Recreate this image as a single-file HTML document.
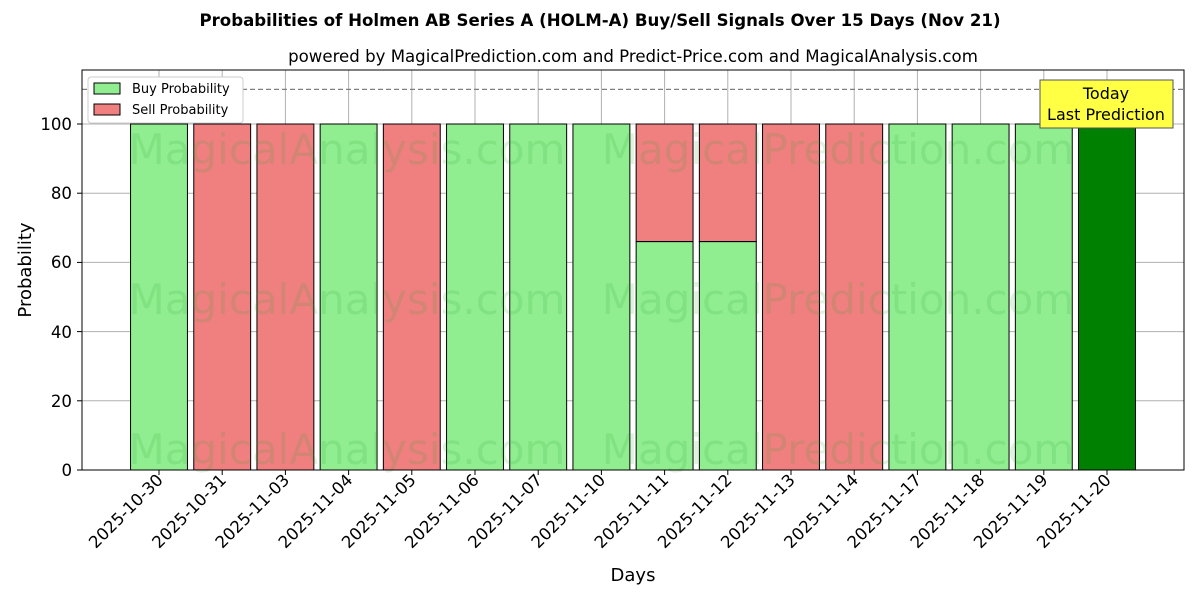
<!DOCTYPE html>
<html><head><style>body{margin:0;background:#fff}svg{display:block}</style></head><body>
<svg width="1200" height="600" xmlns="http://www.w3.org/2000/svg" font-family="'DejaVu Sans', 'Liberation Sans', sans-serif">
<rect width="1200" height="600" fill="#fff"/>
<text x="600" y="26" text-anchor="middle" font-size="16.6" font-weight="bold">Probabilities of Holmen AB Series A (HOLM-A) Buy/Sell Signals Over 15 Days (Nov 21)</text>
<text x="633" y="62" text-anchor="middle" font-size="16.6">powered by MagicalPrediction.com and Predict-Price.com and MagicalAnalysis.com</text>
<g id="grid" stroke="#b0b0b0" stroke-width="1">
<line x1="82" x2="1184" y1="470" y2="470"/><line x1="82" x2="1184" y1="400.8" y2="400.8"/><line x1="82" x2="1184" y1="331.6" y2="331.6"/><line x1="82" x2="1184" y1="262.4" y2="262.4"/><line x1="82" x2="1184" y1="193.2" y2="193.2"/><line x1="82" x2="1184" y1="124" y2="124"/>
</g>
<g stroke="#b0b0b0" stroke-width="1" id="vg"></g>
<g id="bars" stroke="#000" stroke-width="1"></g>
<line x1="82" x2="1184" y1="89.4" y2="89.4" stroke="#808080" stroke-width="1.3" stroke-dasharray="5,3"/>
<g font-size="42" fill="#2ca02c" fill-opacity="0.15" text-anchor="middle">
<text x="347" y="164">MagicalAnalysis.com</text><text x="838" y="164">MagicalPrediction.com</text>
<text x="347" y="314">MagicalAnalysis.com</text><text x="838" y="314">MagicalPrediction.com</text>
<text x="347" y="464">MagicalAnalysis.com</text><text x="838" y="464">MagicalPrediction.com</text>
</g>
<rect x="82" y="70" width="1102" height="400" fill="none" stroke="#000" stroke-width="1"/>
<g font-size="16.6" text-anchor="end">
<text x="72" y="476">0</text><text x="72" y="407">20</text><text x="72" y="338">40</text><text x="72" y="268">60</text><text x="72" y="199">80</text><text x="72" y="130">100</text>
</g>
<g stroke="#000"><line x1="77" x2="82" y1="470" y2="470"/><line x1="77" x2="82" y1="400.8" y2="400.8"/><line x1="77" x2="82" y1="331.6" y2="331.6"/><line x1="77" x2="82" y1="262.4" y2="262.4"/><line x1="77" x2="82" y1="193.2" y2="193.2"/><line x1="77" x2="82" y1="124" y2="124"/></g>
<g id="xl" font-size="16.6" text-anchor="end"></g>
<text x="633" y="581" text-anchor="middle" font-size="18">Days</text>
<text transform="translate(31,270) rotate(-90)" text-anchor="middle" font-size="18">Probability</text>
<rect x="1040" y="80" width="133" height="48" fill="#ffff44" stroke="#555"/>
<text x="1106" y="99" text-anchor="middle" font-size="16">Today</text>
<text x="1106" y="120" text-anchor="middle" font-size="16">Last Prediction</text>
<rect x="88" y="77" width="155" height="46" fill="#fff" stroke="#ccc" rx="3"/>
<rect x="94" y="83" width="26" height="11" fill="#90ee90" stroke="#000"/>
<text x="132" y="93" font-size="13">Buy Probability</text>
<rect x="94" y="104" width="26" height="11" fill="#f08080" stroke="#000"/>
<text x="132" y="114" font-size="13">Sell Probability</text>
<script>
var dates=["2025-10-30","2025-10-31","2025-11-03","2025-11-04","2025-11-05","2025-11-06","2025-11-07","2025-11-10","2025-11-11","2025-11-12","2025-11-13","2025-11-14","2025-11-17","2025-11-18","2025-11-19","2025-11-20"];
var buy=[100,0,0,100,0,100,100,100,66,66,0,0,100,100,100,100];
var ns="http://www.w3.org/2000/svg",b=document.getElementById("bars"),vg=document.getElementById("vg"),xl=document.getElementById("xl");
function el(t,a,p){var e=document.createElementNS(ns,t);for(var k in a)e.setAttribute(k,a[k]);p.appendChild(e);return e;}
for(var i=0;i<16;i++){var c=159+i*63.2,w=56.9,x=c-w/2;
el("line",{x1:c,x2:c,y1:70,y2:470},vg);
var yb=470-buy[i]*3.46;
if(buy[i]<100) el("rect",{x:x,y:124,width:w,height:yb-124,fill:"#f08080"},b);
if(buy[i]>0) el("rect",{x:x,y:yb,width:w,height:470-yb,fill:i==15?"#008000":"#90ee90"},b);
el("line",{x1:c,x2:c,y1:470,y2:475,stroke:"#000"},b);
var t=el("text",{transform:"translate("+(c+5)+",481) rotate(-45)"},xl);t.textContent=dates[i];}
</script>
</svg>
</body></html>
